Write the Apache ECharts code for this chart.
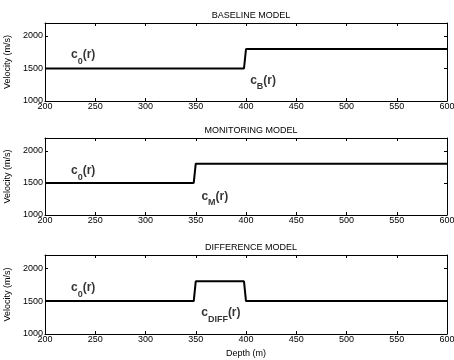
<!DOCTYPE html>
<html>
<head>
<meta charset="utf-8">
<script src="https://cdn.jsdelivr.net/npm/echarts@6/dist/echarts.min.js"></script>
<style>
html,body{margin:0;padding:0;background:#fff;}
#chart{width:454px;height:360px;}
</style>
</head>
<body>
<div id="chart"></div>
<script>
//速度模型数据
var titles = ['BASELINE MODEL', 'MONITORING MODEL', 'DIFFERENCE MODEL'];
var depthBaseline = [200, 398, 400, 600];
var velBaseline = [1500, 1500, 1800, 1800];
var depthMonitor = [200, 348, 350, 600];
var velMonitor = [1500, 1500, 1800, 1800];
var depthDiff = [200, 348, 350, 398, 400, 600];
var velDiff = [1500, 1500, 1800, 1800, 1500, 1500];
//标注 (文字, 深度, 速度)
var labelTexts = [['{c|c}{s|0}{c|(r)}', '{c|c}{s|B}{c|(r)}'],
                  ['{c|c}{s|0}{c|(r)}', '{c|c}{s|M}{c|(r)}'],
                  ['{c|c}{s|0}{c|(r)}', '{c|c}{s|DIFF}{c|(r)}']];
var labelDepth = [[238, 417], [238, 369], [238, 375]];
var labelVel = [[1670, 1280], [1650, 1250], [1660, 1280]];

var depthList = [depthBaseline, depthMonitor, depthDiff];
var velList = [velBaseline, velMonitor, velDiff];
var gridTops = [23, 138, 255];
var gridHeights = [78, 77, 79];

var font = 'Liberation Sans, Arial, sans-serif';
var chart = echarts.init(document.getElementById('chart'));

var grids = [], xAxes = [], yAxes = [], series = [], titleArr = [];
for (var i = 0; i < 3; i++) {
	grids.push({left: 45, right: 7, top: gridTops[i], height: gridHeights[i], outerBoundsMode: 'none', containLabel: false});
	titleArr.push({
		text: titles[i], left: 246, top: gridTops[i] - 17, textAlign: 'center',
		textStyle: {fontFamily: font, fontSize: 9, fontWeight: 'normal', color: '#000'}
	});
	var tickStyle = {show: true, inside: true, length: 3, lineStyle: {color: '#000', width: 1}};
	//下方x轴
	xAxes.push({
		type: 'value', gridIndex: i, min: 200, max: 600, interval: 50, position: 'bottom',
		name: i == 2 ? 'Depth (m)' : '', nameLocation: 'middle', nameGap: 15,
		nameTextStyle: {fontFamily: font, fontSize: 9, color: '#000'},
		axisLine: {show: true, onZero: false, lineStyle: {color: '#000', width: 1}},
		axisTick: tickStyle,
		axisLabel: {fontFamily: font, fontSize: 9, color: '#000', margin: 1},
		splitLine: {show: false}
	});
	//上方x轴（只画刻度）
	xAxes.push({
		type: 'value', gridIndex: i, min: 200, max: 600, interval: 50, position: 'top',
		axisLine: {show: true, onZero: false, lineStyle: {color: '#000', width: 1}},
		axisTick: tickStyle, axisLabel: {show: false}, splitLine: {show: false}
	});
	yAxes.push({
		type: 'value', gridIndex: i, min: 1000, max: 2200, interval: 500, position: 'left',
		name: 'Velocity (m/s)', nameLocation: 'middle', nameGap: 24,
		nameTextStyle: {fontFamily: font, fontSize: 9, color: '#000'},
		axisLine: {show: true, onZero: false, lineStyle: {color: '#000', width: 1}},
		axisTick: tickStyle,
		axisLabel: {fontFamily: font, fontSize: 9, color: '#000', margin: 2,
			formatter: function (v) { return v % 500 == 0 ? v : ''; }},
		splitLine: {show: false}
	});
	yAxes.push({
		type: 'value', gridIndex: i, min: 1000, max: 2200, interval: 500, position: 'right',
		axisLine: {show: true, onZero: false, lineStyle: {color: '#000', width: 1}},
		axisTick: tickStyle, axisLabel: {show: false}, splitLine: {show: false}
	});
	var pts = [];
	for (var k = 0; k < depthList[i].length; k++) {
		pts.push([depthList[i][k], velList[i][k]]);
	}
	series.push({
		type: 'line', xAxisIndex: i * 2, yAxisIndex: i * 2, data: pts,
		symbol: 'none', lineStyle: {color: '#000', width: 2}, animation: false
	});
	var lab = [];
	for (var k = 0; k < labelTexts[i].length; k++) {
		lab.push({value: [labelDepth[i][k], labelVel[i][k]], txt: labelTexts[i][k]});
	}
	series.push({
		type: 'scatter', xAxisIndex: i * 2, yAxisIndex: i * 2, data: lab,
		symbolSize: 1, itemStyle: {color: 'rgba(0,0,0,0)'}, animation: false,
		label: {
			show: true, position: 'inside',
			formatter: function (p) { return p.data.txt; },
			rich: {
				c: {fontFamily: font, fontSize: 12, fontWeight: 'bold', color: '#000', verticalAlign: 'top', lineHeight: 17},
				s: {fontFamily: font, fontSize: 9, fontWeight: 'bold', color: '#000', verticalAlign: 'bottom', lineHeight: 17}
			}
		}
	});
}

chart.setOption({
	animation: false,
	title: titleArr,
	grid: grids,
	xAxis: xAxes,
	yAxis: yAxes,
	series: series
});
</script>
</body>
</html>
